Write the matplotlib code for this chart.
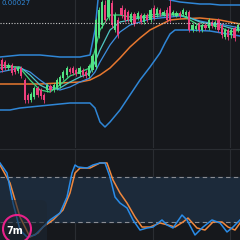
import matplotlib
matplotlib.use("Agg")
import matplotlib.pyplot as plt
from matplotlib.patches import FancyBboxPatch, Circle
import numpy as np

# ---------------- data ----------------
opens = [90,88,82,85,82,79,82,70,55,50,53,62,60,55,60,64,60,62,64,72,75,81,82,80,76,80,78,74,80,83,
         115,125,145,133,147,120,130,142,140,138,128,136,132,135,128,135,130,142,135,140,135,140,144,135,134,
         137,136,135,138,120,121,126,120,125,122,128,123,130,125,113,120,115,122,120]
closes = [80,82,85,77,78,82,74,50,50,56,62,55,54,50,65,60,65,70,73,78,82,78,77,76,82,75,74,84,94,130,
          140,148,130,150,125,135,115,135,130,130,136,126,137,128,135,130,140,132,141,136,138,130,130,138,137,
          134,140,138,120,125,124,120,125,122,130,124,128,120,115,120,113,120,112,125]
highs = [92,90,87,87,84,84,84,72,57,58,64,64,62,57,67,66,67,72,75,80,84,83,84,82,84,82,80,86,96,132,
         143,150,150,152,150,138,133,145,142,140,138,138,139,137,137,137,142,145,143,142,140,143,152,140,139,
         139,142,140,140,127,126,128,127,127,132,130,130,132,127,122,122,122,124,127]
lows = [78,80,80,75,76,77,72,47,47,48,51,53,51,47,58,58,58,60,62,70,73,76,75,74,74,73,72,72,78,81,
        112,122,128,130,122,118,112,132,128,128,126,124,130,126,126,128,128,130,133,134,134,128,128,134,133,
        132,134,133,118,118,119,118,118,120,120,122,121,118,112,111,110,112,109,118]

bb_upper_x = [0,10,20,30,40,50,60,70,80,90,95,100,110,120,130,140,150,160,170,180,190,200,210,220,230,240]
bb_upper = [93,94,95,95,95,94,93,93,93,95,120,170,185,190,185,175,165,155,150,148,147,146,146,145,145,145]
bb_lower_x = [0,10,20,30,40,50,60,70,80,90,95,100,105,110,120,130,140,150,160,165,170,175,190,210,240]
bb_lower = [40,40,42,43,44,45,46,47,47,47,42,28,23,28,40,55,70,83,97,107,116,120,120,119,114]
bb_mid_x = [0,20,40,60,80,90,100,110,120,130,140,150,160,170,180,200,220,240]
bb_mid = [66,66,66,67,68,70,75,82,92,103,112,120,125,130,131,132,130,126]

ma_x = [0,10,20,30,40,50,60,70,80,90,95,100,110,120,130,140,150,160,170,180,190,200,210,220,230,240]
ma_fast = [85,84,82,70,60,58,65,74,78,82,100,120,135,135,133,133,135,136,136,136,130,124,125,123,118,120]
ma_mid = [82,83,83,75,65,60,62,68,73,77,88,100,120,128,130,132,133,134,135,135,132,128,126,125,122,120]
ma_slow = [78,80,82,78,70,63,60,63,68,72,78,88,105,118,125,128,131,132,133,134,132,129,127,126,124,122]

last_price = 127

k_x = [0,7,13,20,27,35,43,50,60,67,72,75,78,87,93,100,105,110,115,120,127,133,140,147,153,162,167,173,
       182,187,195,203,212,220,227,233,240]
k_val = [98.7,85.3,45.3,9.3,0,2.7,13.3,22.7,32,53.3,85.3,96,93.3,92,96,98.7,98.7,80,53.3,45.3,38.7,22.7,
         9.3,12,13.3,22.7,16,12,29.3,22.7,2.7,13.3,22.7,18.7,6.7,13.3,22.7]
d_x = [0,10,20,30,38,43,53,63,70,75,80,90,100,107,113,120,127,135,142,150,160,168,175,183,188,197,205,
       213,222,228,235,240]
d_val = [96,72,26.7,0,5.3,13.3,22.7,36,58.7,85.3,92,92,98.7,98.7,76,58.7,45.3,26.7,13.3,13.3,18.7,16,
         13.3,20,25.3,12,9.3,20,20,13.3,9.3,18.7]

grid_x = [75, 153, 230]

# ---------------- style ----------------
BG = "#16181c"
GRID = "#2a2d32"
GREEN = "#52e382"
PINK = "#ee3f7d"

fig = plt.figure(figsize=(2.4, 2.4), dpi=100, facecolor=BG)
ax = fig.add_axes([0, 92/240, 1, 148/240], facecolor=BG)
ax2 = fig.add_axes([0, 0, 1, 90/240], facecolor=BG)

for a in (ax, ax2):
    a.set_xlim(0, 240)
    for s in a.spines.values():
        s.set_visible(False)
    a.set_xticks([])
    a.set_yticks([])
    for gx in grid_x:
        a.axvline(gx, color=GRID, lw=0.8, zorder=0)

ax.set_ylim(2, 150)
ax2.set_ylim(-4, 116)

# separator
fig.add_artist(plt.Line2D([0, 1], [1 - 149/240, 1 - 149/240], color=GRID, lw=0.8))

# candles
n = len(opens)
xs = 2 + np.arange(n) * 3.23
o = np.array(opens); c = np.array(closes)
cols = [GREEN if cc >= oo else PINK for oo, cc in zip(o, c)]
ax.vlines(xs, lows, highs, colors=cols, lw=0.6, zorder=3)
ax.bar(xs, np.maximum(np.abs(c - o), 1), bottom=np.minimum(o, c), width=2.2, color=cols, zorder=3)

# bands and MAs
ax.plot(bb_upper_x, bb_upper, color="#2f86d6", lw=1.1, zorder=2)
ax.plot(bb_lower_x, bb_lower, color="#2f86d6", lw=1.1, zorder=2)
ax.plot(bb_mid_x, bb_mid, color="#e8782f", lw=1.1, zorder=2)
ax.plot(ma_x, ma_slow, color="#3d8fe0", lw=0.9, zorder=2)
ax.plot(ma_x, ma_mid, color="#4fc6c4", lw=0.9, zorder=2)
ax.plot(ma_x, ma_fast, color="#3ed67e", lw=0.9, zorder=2)

ax.axhline(last_price, color="#c8c8c8", lw=0.8, ls=(0, (1, 1.5)), zorder=4)
ax.text(1, 150, "0.00027", color="#2f86d6", fontsize=5, va="top", ha="left", zorder=5)

# stoch RSI
ax2.axhspan(20, 80, color="#1c2a3a", zorder=0.5)
ax2.axhline(80, color="#8a8d94", lw=0.8, ls=(0, (4, 3)), zorder=1)
ax2.axhline(20, color="#8a8d94", lw=0.8, ls=(0, (4, 3)), zorder=1)
ax2.plot(d_x, d_val, color="#f0883e", lw=1.1, zorder=3)
ax2.plot(k_x, k_val, color="#2a8ce8", lw=1.1, zorder=3)

# overlay box
box = FancyBboxPatch((-6/240, -10/240), 53/240, 50/240, boxstyle="round,pad=0,rounding_size=0.025",
                     transform=fig.transFigure, facecolor="#1c2733", edgecolor="none", alpha=0.6, zorder=10)
fig.add_artist(box)
circ = Circle((17/240, 1 - 229/240), 14/240, transform=fig.transFigure, fill=False,
              edgecolor="#e8208a", lw=1.5, zorder=11)
fig.add_artist(circ)
fig.text(15/240, 1 - 231/240, "7m", color="white", fontsize=7, fontweight="bold",
         ha="center", va="center", zorder=12)

fig.savefig("out.png", dpi=100, facecolor=BG)
